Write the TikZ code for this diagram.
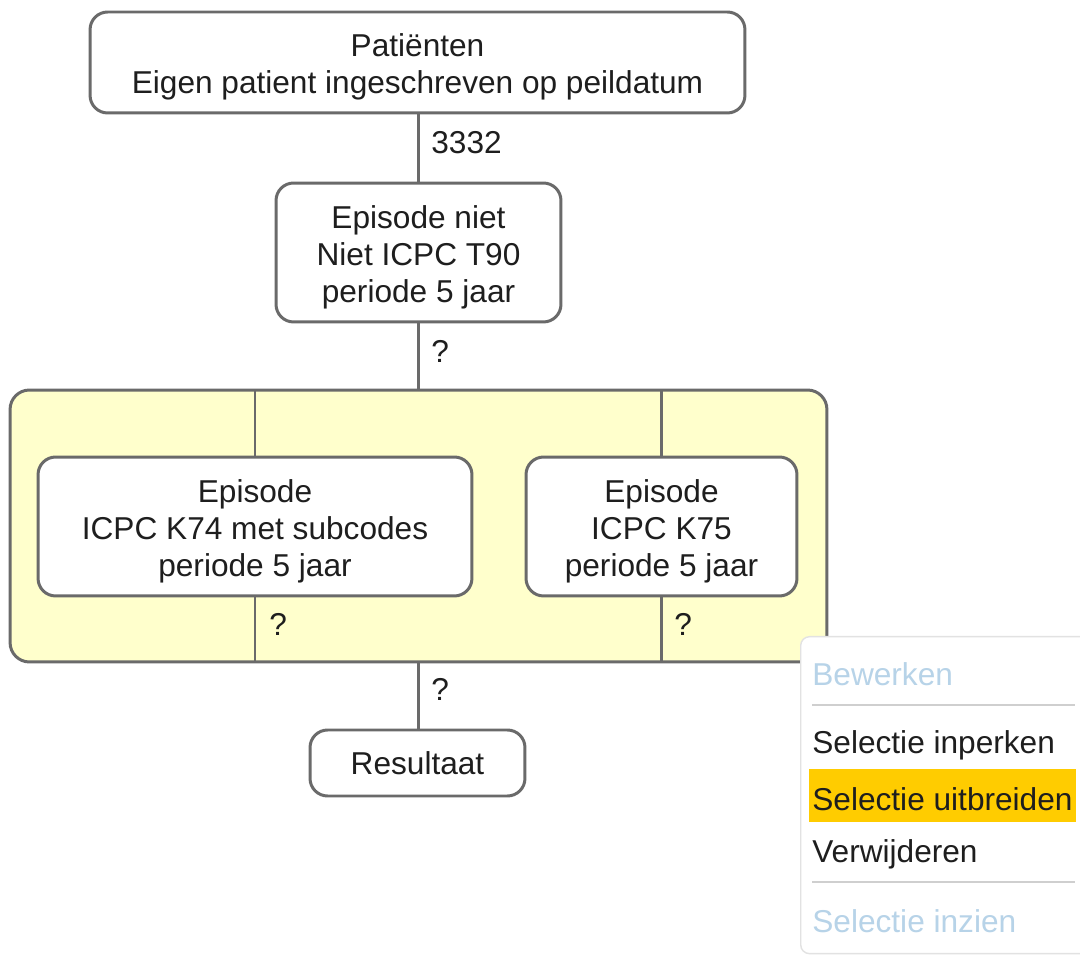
\documentclass[tikz,border=0pt]{standalone}
\usepackage{fontspec}
\setmainfont{Liberation Sans}
\definecolor{edge}{HTML}{6A6A6A}
\definecolor{grpfill}{HTML}{FFFFCC}
\definecolor{txt}{HTML}{1E1E1E}
\definecolor{dim}{HTML}{B7D3E8}
\definecolor{hl}{HTML}{FFCC00}
\definecolor{menuedge}{HTML}{E2E2E2}
\definecolor{sep}{HTML}{CFCFCF}
\newcommand\lowerstrut{\rule{0pt}{18.1pt}}
\tikzset{
  px/.style={x=0.02cm,y=-0.02cm},
  box/.style={draw=edge, line width=1.7pt, rounded corners=10pt, fill=white, align=center,
    text=txt, font=\fontsize{18}{21}\selectfont, inner sep=0pt},
  grp/.style={draw=edge, line width=1.7pt, rounded corners=11pt, fill=grpfill, inner sep=0pt},
  conn/.style={draw=edge, line width=1.7pt},
  lbl/.style={text=txt, font=\fontsize{18}{21}\selectfont, inner sep=0pt, anchor=west},
  item/.style={font=\fontsize{18}{21}\selectfont, inner sep=0pt, anchor=west, text=txt},
  dimitem/.style={item, text=dim},
}
\begin{document}
\begin{tikzpicture}[px]
\useasboundingbox (0,0) rectangle (1080,956);
\fill[white] (0,0) rectangle (1080,956);
% group
\node[grp, minimum width=16.34cm, minimum height=5.44cm] (grp) at (418.5,526) {};
% boxes
\node[box, minimum width=13.1cm, minimum height=2.02cm] (top) at (417.5,62.5) {\lowerstrut Patiënten\\Eigen patient ingeschreven op peildatum};
\node[box, minimum width=5.7cm, minimum height=2.78cm] (ep) at (418.5,252.5) {\lowerstrut Episode niet\\Niet ICPC T90\\periode 5 jaar};
\node[box, minimum width=8.68cm, minimum height=2.78cm] (k74) at (255,526.5) {\lowerstrut Episode\\ICPC K74 met subcodes\\periode 5 jaar};
\node[box, minimum width=5.42cm, minimum height=2.78cm] (k75) at (661.5,526.5) {\lowerstrut Episode\\ICPC K75\\periode 5 jaar};
\node[box, minimum width=4.3cm, minimum height=1.32cm] (res) at (417.5,763) {Resultaat};
% connectors
\draw[conn] (ep.north |- top.south) -- (ep.north);
\draw[conn] (ep.south) -- (ep.south |- grp.north);
\draw[conn] (grp.south -| ep.south) -- (res.north -| ep.south);
\draw[conn] (k74.north) -- (k74.north |- grp.north);
\draw[conn] (k74.south) -- (k74.south |- grp.south);
\draw[conn] (k75.north) -- (k75.north |- grp.north);
\draw[conn] (k75.south) -- (k75.south |- grp.south);
% labels
\node[lbl] (l1) at (431,143) {3332};
\node[lbl] (l2) at (431,351) {?};
\node[lbl] (l3) at (269,624) {?};
\node[lbl] (l4) at (674,624) {?};
\node[lbl] (l5) at (431,689) {?};
% context menu
\node[draw=menuedge, line width=0.8pt, fill=white, rounded corners=5pt, minimum width=6.2cm, minimum height=6.34cm, anchor=north west, inner sep=0pt] (menu) at (800,636) {};
\fill[hl] (809,769) rectangle (1076,822);
\draw[sep, line width=0.8pt] (812,705) -- (1075,705);
\draw[sep, line width=0.8pt] (812,882) -- (1075,882);
\node[dimitem] (m1) at (812,674) {Bewerken};
\node[item] (m2) at (812,745) {Selectie inperken};
\node[item] (m3) at (812,799) {Selectie uitbreiden};
\node[item] (m4) at (812,854) {Verwijderen};
\node[dimitem] (m5) at (812,921) {Selectie inzien};
\end{tikzpicture}
\end{document}
